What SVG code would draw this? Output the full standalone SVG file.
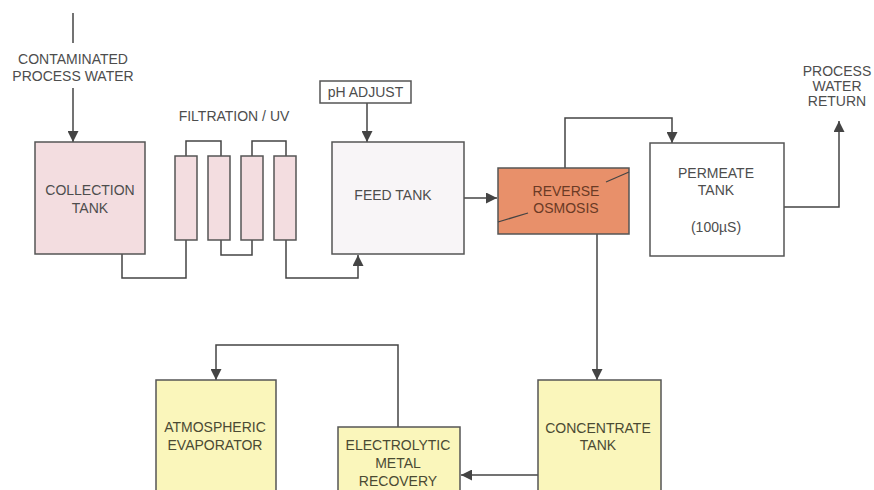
<svg xmlns="http://www.w3.org/2000/svg" width="874" height="490" viewBox="0 0 874 490">
<defs>
<marker id="ah" viewBox="0 0 10 10" refX="10" refY="5" markerWidth="11" markerHeight="11" markerUnits="userSpaceOnUse" orient="auto">
<path d="M0,0 L10,5 L0,10 z" fill="#444"/>
</marker>
<style>
.box{stroke:#555;stroke-width:1.5}
.pink{fill:#f3dde0}
.light{fill:#f8f5f7}
.white{fill:#ffffff}
.orange{fill:#e8906a}
.yellow{fill:#faf6bb}
.ln{fill:none;stroke:#444;stroke-width:1.5}
.arr{fill:none;stroke:#444;stroke-width:1.5;marker-end:url(#ah)}
text{font-family:"Liberation Sans",Arial,sans-serif;font-size:14px;fill:#4d4d4d;text-anchor:middle}
.dk{fill:#4a4a33}
.or{fill:#6a3a25}
</style>
</defs>
<rect width="874" height="490" fill="#ffffff"/>

<g id="connectors">
<line class="ln" x1="73" y1="13" x2="73" y2="43"/>
<polyline class="arr" points="73,88 73,142"/>
<polyline class="ln" points="122,254 122,278 186,278 186,240"/>
<polyline class="ln" points="186,156 186,141 221,141 221,156"/>
<polyline class="ln" points="221,240 221,255 252,255 252,240"/>
<polyline class="ln" points="252,156 252,141 286,141 286,156"/>
<polyline class="arr" points="286,240 286,278 358,278 358,255"/>
<polyline class="arr" points="367,103 367,142"/>
<polyline class="arr" points="464,198 497,198"/>
<polyline class="arr" points="565,168 565,118 672,118 672,143"/>
<polyline class="arr" points="784,207 839,207 839,121"/>
<polyline class="arr" points="597,234 597,380"/>
<polyline class="arr" points="538,475 461,475"/>
<polyline class="arr" points="398,427 398,345 216,345 216,380"/>
</g>

<g id="label-contaminated">
<text x="73" y="64">CONTAMINATED</text>
<text x="73" y="81">PROCESS WATER</text>
</g>

<g id="collection-tank">
<rect class="box pink" x="35" y="142" width="110" height="112"/>
<text x="90" y="195">COLLECTION</text>
<text x="90" y="213">TANK</text>
</g>

<g id="filtration">
<text x="234" y="121">FILTRATION / UV</text>
<rect class="box pink" x="175" y="156" width="22" height="84"/>
<rect class="box pink" x="208" y="156" width="22" height="84"/>
<rect class="box pink" x="241" y="156" width="22" height="84"/>
<rect class="box pink" x="274" y="156" width="22" height="84"/>
</g>

<g id="ph-adjust">
<rect class="box white" x="320" y="81" width="91" height="22"/>
<text x="365.5" y="97">pH ADJUST</text>
</g>

<g id="feed-tank">
<rect class="box light" x="332" y="142" width="132" height="112"/>
<text x="393" y="200">FEED TANK</text>
</g>

<g id="reverse-osmosis">
<rect class="box orange" x="498" y="168" width="131" height="66"/>
<line x1="498" y1="222" x2="528" y2="213" stroke="#444" stroke-width="1.2"/>
<line x1="606" y1="182" x2="629" y2="172" stroke="#444" stroke-width="1.2"/>
<text class="or" x="566" y="196">REVERSE</text>
<text class="or" x="566" y="213">OSMOSIS</text>
</g>

<g id="permeate-tank">
<rect class="box white" x="650" y="143" width="134" height="113"/>
<text x="716" y="178">PERMEATE</text>
<text x="716" y="195">TANK</text>
<text x="716" y="232">(100µS)</text>
</g>

<g id="label-return">
<text x="837" y="76">PROCESS</text>
<text x="837" y="91">WATER</text>
<text x="837" y="106">RETURN</text>
</g>

<g id="concentrate-tank">
<rect class="box yellow" x="538" y="380" width="123" height="115"/>
<text class="dk" x="598" y="433">CONCENTRATE</text>
<text class="dk" x="598" y="450">TANK</text>
</g>

<g id="electrolytic">
<rect class="box yellow" x="338" y="427" width="122" height="70"/>
<text class="dk" x="398" y="450">ELECTROLYTIC</text>
<text class="dk" x="398" y="468">METAL</text>
<text class="dk" x="398" y="486">RECOVERY</text>
</g>

<g id="atmospheric">
<rect class="box yellow" x="156" y="380" width="120" height="115"/>
<text class="dk" x="215" y="432">ATMOSPHERIC</text>
<text class="dk" x="215" y="450">EVAPORATOR</text>
</g>
</svg>
